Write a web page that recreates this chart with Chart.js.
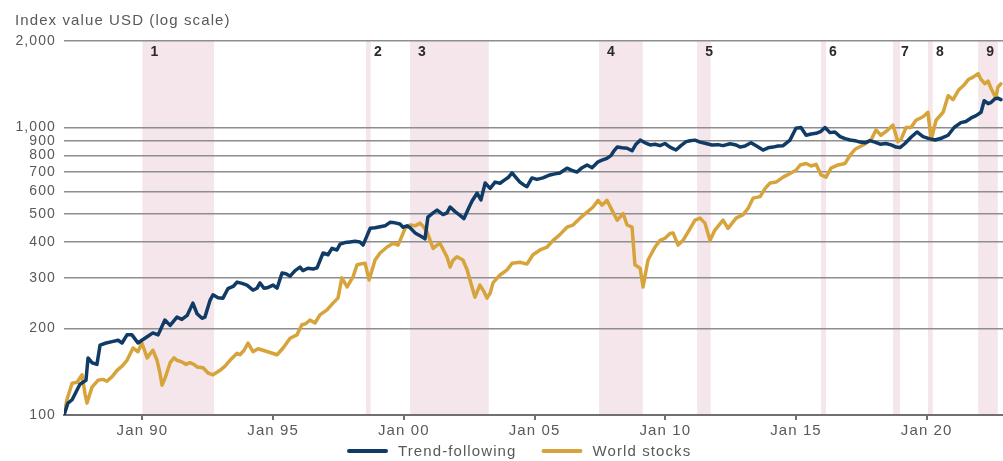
<!DOCTYPE html>
<html>
<head>
<meta charset="utf-8">
<script src="https://cdn.jsdelivr.net/npm/chart.js@4.4.1/dist/chart.umd.min.js"></script>
<style>
  html, body { margin: 0; padding: 0; background: #ffffff; }
  #wrap { width: 1003px; height: 461px; }
</style>
</head>
<body>
<div id="wrap"><canvas id="c" width="1003" height="461"></canvas></div>
<script>
// ---------------- DATA ----------------
const chartTitle = 'Index value USD (log scale)';
const seriesNames = ['Trend-following', 'World stocks'];

// Trend-following (decimal year, index value)
const trendYears = [
  1987.00,1987.15,1987.31,1987.61,1987.84,1987.92,
  1988.07,1988.26,1988.38,1988.61,1988.84,
  1989.07,1989.22,1989.41,1989.60,1989.83,1989.98,
  1990.21,1990.40,1990.60,1990.86,
  1991.06,1991.32,1991.51,1991.71,1991.93,
  1992.09,1992.28,1992.39,1992.59,1992.70,1992.89,
  1993.08,1993.27,1993.47,1993.62,1993.81,
  1994.00,1994.23,1994.38,1994.50,1994.65,1994.77,
  1995.00,1995.15,1995.34,1995.49,1995.65,1995.84,
  1996.03,1996.14,1996.33,1996.53,1996.68,1996.91,
  1997.10,1997.25,1997.44,1997.56,1997.75,1997.94,
  1998.13,1998.32,1998.44,1998.71,1998.90,
  1999.09,1999.28,1999.47,1999.66,1999.85,1999.97,
  2000.12,2000.24,2000.43,2000.62,2000.81,2000.92,
  2001.12,2001.27,2001.50,2001.65,2001.77,2001.96,
  2002.15,2002.30,2002.46,2002.61,2002.80,2002.95,
  2003.11,2003.30,2003.49,2003.68,2003.83,2003.99,
  2004.14,2004.29,2004.44,2004.60,2004.71,2004.90,
  2005.09,2005.32,2005.59,2005.78,2005.97,
  2006.24,2006.43,2006.62,2006.82,
  2007.01,2007.20,2007.43,2007.58,2007.77,2007.93,
  2008.04,2008.16,2008.35,2008.54,2008.73,2008.88,
  2009.04,2009.23,2009.42,2009.61,2009.80,2009.99,
  2010.18,2010.41,2010.60,2010.80,2010.95,
  2011.14,2011.33,2011.56,2011.79,
  2012.02,2012.21,2012.48,2012.71,2012.86,
  2013.05,2013.28,2013.51,2013.74,2013.93,
  2014.12,2014.31,2014.51,2014.77,
  2015.00,2015.19,2015.39,2015.58,2015.77,2015.96,
  2016.11,2016.30,2016.49,2016.69,2016.88,
  2017.07,2017.26,2017.45,2017.64,2017.83,
  2018.02,2018.22,2018.44,2018.64,2018.83,2018.98,
  2019.17,2019.40,2019.63,2019.86,
  2020.09,2020.32,2020.59,2020.82,
  2021.05,2021.31,2021.50,2021.70,2021.89,
  2022.08,2022.20,2022.35,2022.45,2022.61,2022.72,2022.84
];
const trendValues = [
  100,110,113,128,132,158,
  152,150,175,178,180,
  182,178,190,190,178,182,
  188,193,190,214,
  205,219,215,222,245,
  225,217,219,251,262,256,
  255,275,280,290,287,
  283,272,276,288,276,277,
  283,276,312,310,304,318,
  327,318,324,322,325,366,
  361,380,375,393,398,400,
  402,400,390,446,448,
  452,455,468,466,462,450,
  455,448,430,420,410,488,
  505,516,498,505,529,510,
  495,482,520,555,591,560,
  641,614,646,640,655,670,
  695,670,646,630,623,668,
  660,668,684,690,695,
  722,710,700,725,
  741,725,760,770,781,800,
  830,855,850,847,830,875,
  904,885,870,875,865,880,
  855,835,865,893,900,
  904,890,880,869,
  872,865,878,870,855,
  862,885,860,835,850,
  855,862,865,904,
  995,1000,940,950,955,970,
  1000,960,965,930,915,
  905,900,890,885,900,
  890,875,880,870,855,852,
  880,925,965,930,
  915,905,920,940,
  1000,1040,1050,1080,1100,
  1130,1240,1210,1220,1260,1265,1250
];

// World stocks (decimal year, index value)
const worldYears = [
  1987.00,1987.11,1987.31,1987.50,1987.69,1987.80,1987.88,
  1988.07,1988.30,1988.49,1988.64,1988.84,
  1989.03,1989.22,1989.41,1989.64,1989.83,1989.98,
  1990.18,1990.33,1990.40,1990.56,1990.67,1990.75,1990.86,
  1991.06,1991.21,1991.32,1991.51,1991.67,1991.82,1991.97,
  1992.09,1992.32,1992.51,1992.70,1992.97,
  1993.16,1993.35,1993.62,1993.73,1993.89,
  1994.04,1994.23,1994.42,1994.61,1994.88,
  1995.15,1995.38,1995.65,1995.91,
  1996.10,1996.26,1996.41,1996.60,1996.79,
  1997.06,1997.29,1997.48,1997.63,1997.83,
  1998.06,1998.21,1998.40,1998.52,1998.67,1998.90,
  1999.09,1999.36,1999.59,1999.78,
  2000.05,2000.24,2000.43,2000.62,2000.77,2000.89,
  2001.12,2001.27,2001.38,2001.65,2001.77,2001.88,
  2002.03,2002.26,2002.42,2002.53,2002.72,2002.91,
  2003.07,2003.18,2003.30,2003.41,2003.68,2003.95,
  2004.14,2004.44,2004.71,2004.94,
  2005.21,2005.48,2005.71,2005.97,
  2006.24,2006.47,2006.74,
  2007.01,2007.24,2007.43,2007.58,2007.77,
  2008.00,2008.16,2008.39,2008.54,2008.73,2008.84,
  2009.04,2009.15,2009.34,2009.61,2009.80,2009.99,
  2010.18,2010.30,2010.49,2010.68,2010.87,
  2011.14,2011.33,2011.52,2011.71,2011.90,
  2012.21,2012.40,2012.71,2012.98,
  2013.17,2013.36,2013.63,2013.82,
  2014.01,2014.24,2014.51,2014.81,
  2015.00,2015.16,2015.39,2015.58,2015.77,2015.96,
  2016.15,2016.34,2016.61,2016.88,
  2017.07,2017.26,2017.57,2017.87,
  2018.06,2018.25,2018.48,2018.71,2018.90,
  2019.02,2019.21,2019.40,2019.59,2019.86,
  2020.05,2020.17,2020.36,2020.63,2020.82,
  2021.01,2021.22,2021.41,2021.60,2021.79,2021.97,
  2022.08,2022.23,2022.35,2022.46,2022.65,2022.72,2022.84
];
const worldValues = [
  100,113,129,130,138,119,110,
  125,132,133,131,136,
  143,148,155,171,166,178,
  158,165,168,155,140,127,134,
  152,158,155,153,150,152,150,
  147,146,140,138,143,
  148,155,164,162,168,
  178,166,170,168,165,
  162,171,185,190,
  206,208,214,209,223,
  232,245,255,300,279,
  303,333,336,337,295,346,
  366,384,396,390,
  446,458,455,465,450,433,
  380,390,396,355,327,345,
  355,346,320,295,257,283,
  268,255,265,288,307,320,
  337,340,335,361,
  375,384,405,424,
  450,458,484,
  508,529,558,537,558,
  508,476,502,458,450,333,
  324,279,346,384,405,412,
  428,430,390,405,433,
  476,484,465,405,440,
  476,446,484,498,
  524,568,575,614,
  641,646,672,695,
  710,741,750,735,745,684,
  672,722,741,750,
  801,840,869,904,
  980,940,975,1020,893,
  910,1000,1000,1060,1090,
  1130,904,1060,1130,1290,
  1250,1350,1400,1470,1500,1540,
  1470,1420,1450,1370,1265,1380,1420
];

// Shaded periods (decimal years) and their labels
const periodStart  = [1990.00, 1998.55, 2000.24, 2007.47, 2011.22, 2015.96, 2018.71, 2020.05, 2021.97];
const periodEnd    = [1992.74, 1998.73, 2003.25, 2009.14, 2011.74, 2016.15, 2018.98, 2020.23, 2022.72];
const periodLabels = ['1', '2', '3', '4', '5', '6', '7', '8', '9'];

// Axes
const xMin = 1987.0, xMax = 2022.92;
const xTickValues = [1990, 1995, 2000, 2005, 2010, 2015, 2020];
const xTickLabels = ['Jan 90', 'Jan 95', 'Jan 00', 'Jan 05', 'Jan 10', 'Jan 15', 'Jan 20'];
const yTickValues = [100, 200, 300, 400, 500, 600, 700, 800, 900, 1000, 2000];
const yMin = 100, yMax = 2000;

// ---------------- STYLE ----------------
const FONT = '"Liberation Sans", Arial, Helvetica, sans-serif';
const SPACING = '1.1px';
const TEXT_COLOR = '#58595b';
const GRID_COLOR = '#8e8e8e';
const AXIS_COLOR = '#707070';
const BAND_COLOR = '#f4e6eb';
const NAVY = '#0f3b66';
const GOLD = '#d6a43a';

const toPoints = (xs, ys) => xs.map((x, i) => ({ x: x, y: ys[i] }));

const textSpacing = {
  id: 'textSpacing',
  beforeInit(c) { c.ctx.letterSpacing = SPACING; },
  beforeUpdate(c) { c.ctx.letterSpacing = SPACING; },
  beforeLayout(c) { c.ctx.letterSpacing = SPACING; },
  beforeDraw(c) { c.ctx.letterSpacing = SPACING; }
};

const bands = {
  id: 'bands',
  beforeDraw(c) {
    const ctx = c.ctx, a = c.chartArea, xs = c.scales.x;
    ctx.save();
    ctx.fillStyle = BAND_COLOR;
    periodStart.forEach((s, i) => {
      const x1 = xs.getPixelForValue(s);
      const x2 = xs.getPixelForValue(periodEnd[i]);
      ctx.fillRect(x1, a.top, x2 - x1, a.bottom - a.top);
    });
    ctx.letterSpacing = '0px';
    ctx.font = 'bold 14px ' + FONT;
    ctx.fillStyle = '#2a2a2a';
    ctx.textAlign = 'left';
    ctx.textBaseline = 'middle';
    periodStart.forEach((s, i) => {
      ctx.fillText(periodLabels[i], xs.getPixelForValue(s) + 8, a.top + 11);
    });
    ctx.restore();
  }
};

const overlay = {
  id: 'overlay',
  afterDraw(c) {
    const ctx = c.ctx;
    ctx.save();
    ctx.letterSpacing = SPACING;
    ctx.fillStyle = TEXT_COLOR;
    ctx.font = '15px ' + FONT;
    ctx.textAlign = 'left';
    ctx.textBaseline = 'alphabetic';
    ctx.fillText(chartTitle, 15, 25);

    // legend
    let x = 347;
    const y = 451;
    c.data.datasets.forEach(ds => {
      ctx.strokeStyle = ds.borderColor;
      ctx.lineWidth = 4;
      ctx.lineCap = 'round';
      ctx.beginPath();
      ctx.moveTo(x + 2, y);
      ctx.lineTo(x + 39, y);
      ctx.stroke();
      ctx.fillStyle = TEXT_COLOR;
      ctx.textBaseline = 'middle';
      ctx.fillText(ds.label, x + 51, y + 1);
      x += 51 + ctx.measureText(ds.label).width + 25;
    });
    ctx.restore();
  }
};

new Chart(document.getElementById('c'), {
  type: 'line',
  data: {
    datasets: [
      {
        label: seriesNames[0],
        data: toPoints(trendYears, trendValues),
        borderColor: NAVY,
        backgroundColor: NAVY,
        borderWidth: 3.5,
        pointRadius: 0,
        tension: 0,
        borderJoinStyle: 'round',
        borderCapStyle: 'round',
        fill: false
      },
      {
        label: seriesNames[1],
        data: toPoints(worldYears, worldValues),
        borderColor: GOLD,
        backgroundColor: GOLD,
        borderWidth: 3.5,
        pointRadius: 0,
        tension: 0,
        borderJoinStyle: 'round',
        borderCapStyle: 'round',
        fill: false
      }
    ]
  },
  options: {
    responsive: false,
    devicePixelRatio: 1,
    animation: false,
    layout: { padding: { top: 41, left: 0, right: 0, bottom: 0 } },
    plugins: {
      legend: { display: false },
      title: { display: false },
      tooltip: { enabled: false }
    },
    scales: {
      x: {
        type: 'linear',
        min: xMin,
        max: xMax,
        afterBuildTicks: s => { s.ticks = xTickValues.map(v => ({ value: v })); },
        afterFit: s => { s.height = 46; },
        grid: { drawOnChartArea: false, drawTicks: true, tickLength: 5, color: AXIS_COLOR, lineWidth: 2 },
        border: { display: true, color: AXIS_COLOR, width: 2 },
        ticks: {
          autoSkip: false,
          maxRotation: 0,
          padding: 2,
          color: TEXT_COLOR,
          font: { family: FONT, size: 15, lineHeight: 1.2 },
          callback: v => xTickLabels[xTickValues.indexOf(v)]
        }
      },
      y: {
        type: 'logarithmic',
        min: yMin,
        max: yMax,
        afterBuildTicks: s => { s.ticks = yTickValues.map(v => ({ value: v })); },
        afterFit: s => { s.width = 64; },
        grid: {
          color: ctx => (ctx.tick && ctx.tick.value === yMin) ? 'rgba(0,0,0,0)' : GRID_COLOR,
          lineWidth: 1.5,
          drawTicks: false
        },
        border: { display: false },
        ticks: {
          padding: 8,
          color: TEXT_COLOR,
          font: { family: FONT, size: 14 },
          callback: v => Number(v).toLocaleString('en-US')
        }
      }
    }
  },
  plugins: [textSpacing, bands, overlay]
});
</script>
</body>
</html>
